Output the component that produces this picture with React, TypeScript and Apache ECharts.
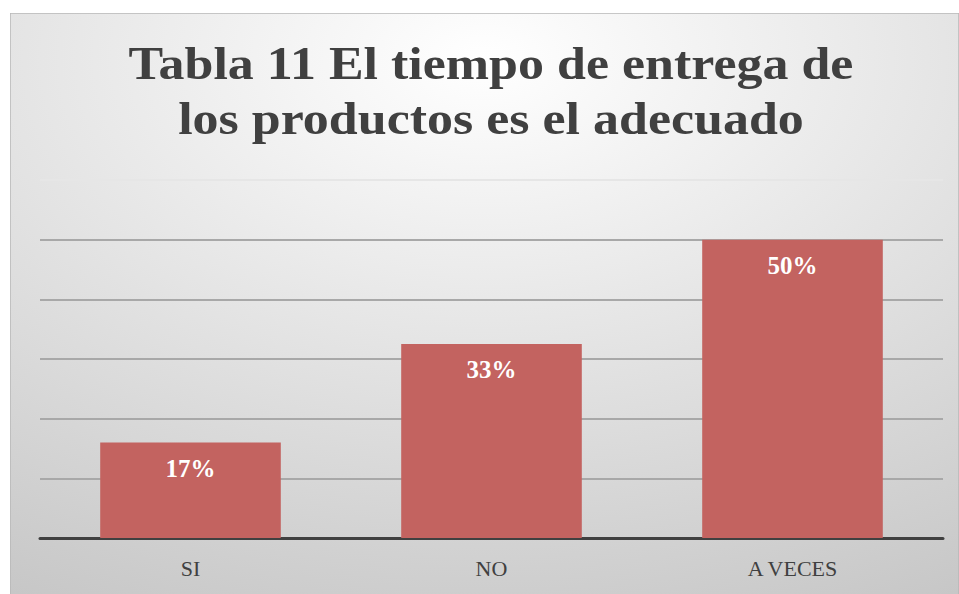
import React, { useEffect, useRef } from "react";
import * as echarts from "echarts";

const categories = ["SI", "NO", "A VECES"];
const values = [16, 32.5, 50];
const valueLabels = ["17%", "33%", "50%"];
const titleText = "Tabla 11 El tiempo de entrega de\nlos productos es el adecuado";

export default function App() {
  const ref = useRef<HTMLDivElement>(null);
  useEffect(() => {
    if (!ref.current) return;
    const chart = echarts.init(ref.current, null, { renderer: "svg" });
    chart.setOption({
      animation: false,
      backgroundColor: {
        type: "radial",
        x: 0.5,
        y: 0.08,
        r: 1.1,
        colorStops: [
          { offset: 0, color: "#ffffff" },
          { offset: 1, color: "#c4c4c4" },
        ],
      },
      graphic: [
        {
          type: "rect",
          shape: { x: 0, y: 0, width: 949, height: 582 },
          style: { fill: "none", stroke: "#b8b8b8", lineWidth: 1.5 },
          silent: true,
        },
        {
          type: "text",
          x: 481,
          y: 23,
          scaleX: 1.13,
          style: {
            text: titleText,
            fontFamily: "Liberation Serif",
            fontWeight: "bold",
            fontSize: 46,
            lineHeight: 55,
            fill: "#404040",
            align: "center",
          },
        },
      ],
      grid: { left: 30, right: 16, top: 167, bottom: 56 },
      xAxis: {
        type: "category",
        data: categories,
        axisLine: { lineStyle: { color: "#404040", width: 3 } },
        axisTick: { show: false },
        axisLabel: {
          fontFamily: "Liberation Serif",
          fontSize: 22,
          color: "#404040",
          margin: 19,
        },
      },
      yAxis: {
        type: "value",
        min: 0,
        max: 60,
        interval: 10,
        axisLabel: { show: false },
        axisLine: { show: false },
        axisTick: { show: false },
        splitLine: {
          lineStyle: {
            color: ["#a8a8a8", "#a8a8a8", "#a8a8a8", "#a8a8a8", "#a8a8a8", "#a8a8a8", "#e6e6e6"],
            width: 2,
          },
        },
      },
      series: [
        {
          type: "bar",
          data: values,
          barWidth: "60%",
          itemStyle: { color: "#c36360" },
          label: {
            show: true,
            position: "insideTop",
            distance: 13,
            formatter: (p: any) => valueLabels[p.dataIndex],
            fontFamily: "Liberation Serif",
            fontWeight: "bold",
            fontSize: 25,
            color: "#ffffff",
          },
        },
      ],
    });
    return () => chart.dispose();
  }, []);
  return (
    <div
      ref={ref}
      style={{ position: "absolute", left: 10, top: 13, width: 949, height: 581 }}
    />
  );
}
